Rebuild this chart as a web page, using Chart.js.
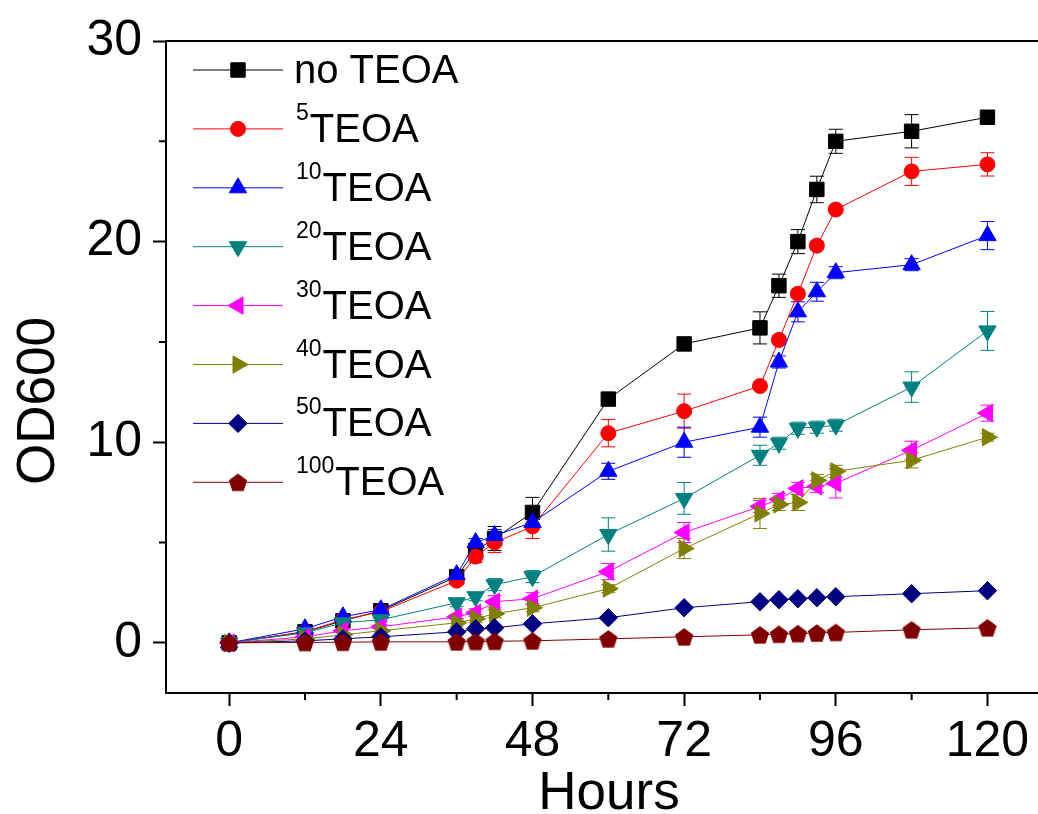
<!DOCTYPE html>
<html><head><meta charset="utf-8">
<script src="https://cdn.jsdelivr.net/npm/chart.js@4.4.1/dist/chart.umd.min.js"></script>
<style>html,body{margin:0;padding:0;background:#fff;overflow:hidden}#wrap{width:1038px;height:814px;position:relative}</style>
</head><body><div id="wrap"><canvas id="c" width="1038" height="814"></canvas></div>
<script>
// ---- data ----
const hours = [0, 12, 18, 24, 36, 39, 42, 48, 60, 72, 84, 87, 90, 93, 96, 108, 120];
const seriesLabels = ['no TEOA', 'TEOA', 'TEOA', 'TEOA', 'TEOA', 'TEOA', 'TEOA', 'TEOA'];
const seriesSup = ['', '5', '10', '20', '30', '40', '50', '100'];
const noTEOA   = [0, 0.55, 1.1, 1.6, 3.3, 4.6, 5.2, 6.5, 12.15, 14.9, 15.7, 17.8, 20.0, 22.6, 25.0, 25.5, 26.2];
const teoa5    = [0, 0.55, 1.15, 1.55, 3.1, 4.3, 5.0, 5.8, 10.45, 11.55, 12.8, 15.1, 17.4, 19.8, 21.6, 23.5, 23.85];
const teoa10   = [0, 0.7, 1.3, 1.65, 3.4, 5.0, 5.35, 6.0, 8.55, 10.0, 10.75, 14.0, 16.5, 17.5, 18.45, 18.85, 20.3];
const teoa20   = [0, 0.5, 1.0, 1.15, 2.0, 2.3, 2.9, 3.3, 5.4, 7.2, 9.35, 9.95, 10.7, 10.75, 10.85, 12.75, 15.55];
const teoa30   = [0, 0.3, 0.6, 0.8, 1.3, 1.5, 2.05, 2.2, 3.55, 5.5, 6.8, 7.15, 7.7, 7.8, 7.95, 9.6, 11.45];
const teoa40   = [0, 0.2, 0.4, 0.6, 1.0, 1.2, 1.45, 1.75, 2.7, 4.7, 6.45, 6.9, 7.0, 8.1, 8.55, 9.1, 10.25];
const teoa50   = [0, 0.1, 0.2, 0.3, 0.55, 0.7, 0.75, 0.95, 1.25, 1.75, 2.05, 2.15, 2.2, 2.25, 2.3, 2.45, 2.6];
const teoa100  = [0, 0.02, 0.03, 0.05, 0.05, 0.07, 0.08, 0.1, 0.2, 0.3, 0.4, 0.43, 0.46, 0.49, 0.52, 0.65, 0.75];
// +/- error values
const errNo    = [0, 0.1, 0.15, 0.2, 0.2, 0.3, 0.6, 0.75, 0.2, 0.2, 0.8, 0.58, 0.6, 0.66, 0.6, 0.83, 0];
const err5     = [0, 0.1, 0.1, 0.15, 0.2, 0.3, 0.5, 0.6, 0.68, 0.85, 0.2, 0.2, 0.2, 0.2, 0.2, 0.7, 0.58];
const err10    = [0, 0.1, 0.1, 0.15, 0.2, 0.2, 0.3, 0.3, 0.4, 0.75, 0.5, 0.3, 0.5, 0.47, 0.3, 0.3, 0.7];
const err20    = [0, 0.1, 0.1, 0.1, 0.2, 0.2, 0.3, 0.3, 0.83, 0.79, 0.5, 0.3, 0.3, 0.3, 0.3, 0.76, 0.97];
const err30    = [0, 0.05, 0.1, 0.1, 0.1, 0.2, 0.3, 0.3, 0.4, 0.5, 0.3, 0.3, 0.3, 0.3, 0.73, 0.45, 0.4];
const err40    = [0, 0.05, 0.1, 0.1, 0.2, 0.2, 0.2, 0.2, 0.2, 0.5, 0.75, 0.3, 0.4, 0.3, 0.3, 0.38, 0.2];
const err50    = [0, 0.05, 0.05, 0.05, 0.1, 0.1, 0.1, 0.1, 0.1, 0.1, 0.1, 0.1, 0.1, 0.1, 0.1, 0.1, 0.1];
const err100   = [0, 0.02, 0.02, 0.02, 0.03, 0.03, 0.03, 0.03, 0.05, 0.05, 0.05, 0.05, 0.05, 0.05, 0.05, 0.05, 0.05];
const xTicks = [0, 12, 24, 36, 48, 60, 72, 84, 96, 108, 120];
const xTickLabels = [0, 24, 48, 72, 96, 120];
const yTicks = [0, 5, 10, 15, 20, 25, 30];
const yTickLabels = [0, 10, 20, 30];
const xTitle = 'Hours';
const yTitle = 'OD600';

const FONT = '"Liberation Sans", Arial, Helvetica, sans-serif';
const colors = ['#000000', '#ff0000', '#0000ff', '#008080', '#ff00ff', '#808000', '#000080', '#800000'];
const allVals = [noTEOA, teoa5, teoa10, teoa20, teoa30, teoa40, teoa50, teoa100];
const allErrs = [errNo, err5, err10, err20, err30, err40, err50, err100];

function pentagonImage(color, R) {
  const s = Math.ceil(2 * R + 2);
  const c = document.createElement('canvas');
  c.width = s; c.height = s;
  const g = c.getContext('2d');
  g.fillStyle = color;
  g.beginPath();
  for (let i = 0; i < 5; i++) {
    const a = -Math.PI / 2 + i * 2 * Math.PI / 5;
    g.lineTo(s / 2 + R * Math.cos(a), s / 2 + R * Math.sin(a) + R * 0.1);
  }
  g.closePath();
  g.fill();
  return c;
}

const styles = [
  { pointStyle: 'rect', rotation: 0, radius: 10.2 },
  { pointStyle: 'circle', rotation: 0, radius: 7.5 },
  { pointStyle: 'triangle', rotation: 0, radius: 10 },
  { pointStyle: 'triangle', rotation: 180, radius: 10 },
  { pointStyle: 'triangle', rotation: -90, radius: 10 },
  { pointStyle: 'triangle', rotation: 90, radius: 10 },
  { pointStyle: 'rectRot', rotation: 0, radius: 9.2 },
  { pointStyle: pentagonImage('#800000', 9.6), rotation: 0, radius: 9.5 }
];

const datasets = allVals.map((vals, i) => ({
  label: (seriesSup[i] ? seriesSup[i] : '') + seriesLabels[i],
  data: hours.map((h, j) => ({ x: h, y: vals[j] })),
  errors: allErrs[i],
  borderColor: colors[i],
  backgroundColor: colors[i],
  borderWidth: 1,
  pointStyle: styles[i].pointStyle,
  pointRotation: styles[i].rotation,
  pointRadius: styles[i].radius,
  pointHoverRadius: styles[i].radius,
  pointBorderWidth: 1,
  pointBorderColor: colors[i],
  pointBackgroundColor: colors[i],
  order: allVals.length - 1 - i,
  tension: 0
}));

const errorBars = {
  id: 'errorBars',
  beforeDatasetsDraw(chart) {
    const ctx = chart.ctx, xs = chart.scales.x, ys = chart.scales.y;
    ctx.save();
    chart.data.datasets.forEach((ds) => {
      ctx.strokeStyle = ds.borderColor;
      ctx.lineWidth = 1;
      ds.data.forEach((p, j) => {
        const e = ds.errors[j];
        if (!e) return;
        const x = xs.getPixelForValue(p.x);
        const yt = ys.getPixelForValue(p.y + e);
        const yb = ys.getPixelForValue(p.y - e);
        ctx.beginPath();
        ctx.moveTo(x, yt); ctx.lineTo(x, yb);
        ctx.moveTo(x - 7, yt); ctx.lineTo(x + 7, yt);
        ctx.moveTo(x - 7, yb); ctx.lineTo(x + 7, yb);
        ctx.stroke();
      });
    });
    ctx.restore();
  }
};

const frame = {
  id: 'frame',
  afterDraw(chart) {
    const ctx = chart.ctx, a = chart.chartArea, xs = chart.scales.x, ys = chart.scales.y;
    ctx.save();
    ctx.strokeStyle = '#000';
    ctx.lineWidth = 2;
    ctx.beginPath();
    ctx.moveTo(a.left - 1, a.top); ctx.lineTo(a.right, a.top);
    ctx.stroke();
    // minor ticks
    ctx.beginPath();
    xTicks.filter(v => !xTickLabels.includes(v)).forEach(v => {
      const x = xs.getPixelForValue(v);
      ctx.moveTo(x, a.bottom); ctx.lineTo(x, a.bottom + 7);
    });
    yTicks.filter(v => !yTickLabels.includes(v)).forEach(v => {
      const y = ys.getPixelForValue(v);
      ctx.moveTo(a.left - 7, y); ctx.lineTo(a.left, y);
    });
    ctx.stroke();
    // axis titles
    ctx.fillStyle = '#000';
    ctx.font = '53px ' + FONT;
    ctx.textAlign = 'center';
    ctx.textBaseline = 'alphabetic';
    ctx.fillText(xTitle, 609, 809);
    ctx.save();
    ctx.translate(54, 401);
    ctx.rotate(-Math.PI / 2);
    ctx.fillText(yTitle, 0, 0);
    ctx.restore();
    ctx.restore();
  }
};

const legendPlugin = {
  id: 'customLegend',
  afterDraw(chart) {
    const ctx = chart.ctx;
    ctx.save();
    chart.data.datasets.forEach((ds, i) => {
      const y = 70 + i * 58.9;
      ctx.strokeStyle = ds.borderColor;
      ctx.lineWidth = 1;
      ctx.beginPath();
      ctx.moveTo(193, y); ctx.lineTo(283, y);
      ctx.stroke();
      ctx.fillStyle = ds.backgroundColor;
      ctx.strokeStyle = ds.borderColor;
      Chart.helpers.drawPoint(ctx, { pointStyle: ds.pointStyle, rotation: ds.pointRotation, radius: ds.pointRadius, borderWidth: 1 }, 238, y);
      ctx.fillStyle = '#000';
      ctx.textAlign = 'left';
      ctx.textBaseline = 'alphabetic';
      let x = 296;
      const sup = seriesSup[i];
      if (sup) {
        ctx.font = '23px ' + FONT;
        ctx.fillText(sup, x, y - 9);
        x += ctx.measureText(sup).width + 1;
      } else {
        x = 294;
      }
      ctx.font = '40px ' + FONT;
      ctx.fillText(seriesLabels[i], x, y + 13);
    });
    ctx.restore();
  }
};

new Chart(document.getElementById('c'), {
  type: 'line',
  data: { datasets },
  options: {
    responsive: false,
    animation: false,
    layout: { autoPadding: false, padding: { top: 41, left: 0, right: 0, bottom: 0 } },
    plugins: { legend: { display: false }, tooltip: { enabled: false } },
    scales: {
      x: {
        type: 'linear', min: -10, max: 128,
        afterBuildTicks: s => { s.ticks = xTicks.map(v => ({ value: v })); },
        afterFit: s => { s.height = 814 - 693; s.paddingLeft = 0; s.paddingRight = 0; },
        ticks: {
          autoSkip: false, maxRotation: 0, color: '#000', padding: 6,
          font: { family: FONT, size: 50 },
          callback: v => xTickLabels.includes(v) ? String(v) : ''
        },
        grid: {
          drawOnChartArea: false, tickLength: 13, tickWidth: 2,
          tickColor: c => (c.tick && xTickLabels.includes(c.tick.value)) ? '#000' : 'rgba(0,0,0,0)'
        },
        border: { display: true, color: '#000', width: 2 }
      },
      y: {
        type: 'linear', min: -2.5, max: 30,
        afterBuildTicks: s => { s.ticks = yTicks.map(v => ({ value: v })); },
        afterFit: s => { s.width = 166; s.paddingTop = 0; s.paddingBottom = 0; },
        ticks: {
          color: '#000', padding: 11,
          font: { family: FONT, size: 50 },
          callback: v => yTickLabels.includes(v) ? String(v) : ''
        },
        grid: {
          drawOnChartArea: false, tickLength: 13, tickWidth: 2,
          tickColor: c => (c.tick && yTickLabels.includes(c.tick.value)) ? '#000' : 'rgba(0,0,0,0)'
        },
        border: { display: true, color: '#000', width: 2 }
      }
    }
  },
  plugins: [errorBars, frame, legendPlugin]
});
</script></body></html>
